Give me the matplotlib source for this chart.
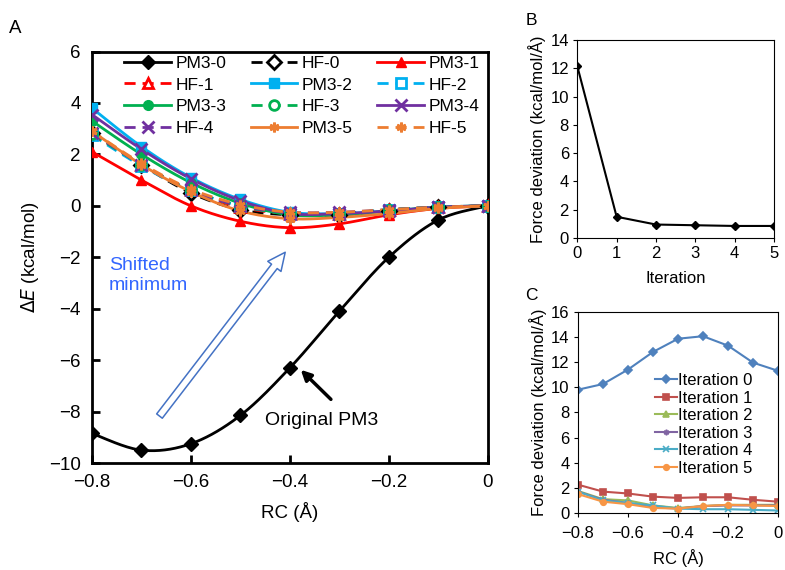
import matplotlib
matplotlib.use("Agg")

import matplotlib.pyplot as plt
import numpy as np
from matplotlib.lines import Line2D
from matplotlib.patches import FancyArrowPatch

plt.rcParams["font.family"] = ["Liberation Sans", "DejaVu Sans"]

# ---- data: panel A (energy profiles) ----
rc = [-0.8, -0.7, -0.6, -0.5, -0.4, -0.3, -0.2, -0.1, 0.0]

pm3_0 = [-8.85, -9.5, -9.25, -8.15, -6.3, -4.1, -2.0, -0.55, 0.0]
hf_0 = [2.85, 1.6, 0.5, -0.15, -0.35, -0.35, -0.2, -0.05, 0.0]
pm3_1 = [2.1, 1.0, 0.0, -0.6, -0.85, -0.7, -0.35, -0.1, 0.0]
hf_1 = [2.8, 1.6, 0.6, -0.05, -0.3, -0.3, -0.15, -0.05, 0.0]
pm3_2 = [3.8, 2.3, 1.1, 0.25, -0.25, -0.3, -0.2, -0.05, 0.0]
hf_2 = [2.75, 1.55, 0.6, 0.0, -0.3, -0.3, -0.15, -0.05, 0.0]
pm3_3 = [3.3, 2.0, 0.9, 0.1, -0.35, -0.35, -0.2, -0.05, 0.0]
hf_3 = [2.8, 1.6, 0.6, 0.0, -0.3, -0.3, -0.15, -0.05, 0.0]
pm3_4 = [3.55, 2.2, 1.05, 0.2, -0.3, -0.3, -0.2, -0.05, 0.0]
hf_4 = [2.85, 1.6, 0.6, 0.0, -0.25, -0.25, -0.15, -0.05, 0.0]
pm3_5 = [2.9, 1.6, 0.55, -0.2, -0.5, -0.45, -0.3, -0.1, 0.0]
hf_5 = [2.9, 1.65, 0.65, 0.05, -0.25, -0.25, -0.15, -0.05, 0.0]

series_a = [
    ("PM3-0", pm3_0), ("HF-0", hf_0), ("PM3-1", pm3_1),
    ("HF-1", hf_1), ("PM3-2", pm3_2), ("HF-2", hf_2),
    ("PM3-3", pm3_3), ("HF-3", hf_3), ("PM3-4", pm3_4),
    ("HF-4", hf_4), ("PM3-5", pm3_5), ("HF-5", hf_5),
]

# ---- data: panel B (force deviation vs iteration) ----
iterations = [0, 1, 2, 3, 4, 5]
force_dev = [12.15, 1.5, 0.95, 0.9, 0.85, 0.85]

# ---- data: panel C (force deviation along RC) ----
iter_0 = [9.8, 10.25, 11.4, 12.8, 13.85, 14.05, 13.3, 11.95, 11.3]
iter_1 = [2.25, 1.7, 1.55, 1.3, 1.2, 1.25, 1.25, 1.05, 0.9]
iter_2 = [1.75, 1.1, 1.0, 0.6, 0.4, 0.55, 0.65, 0.65, 0.65]
iter_3 = [1.7, 1.05, 0.8, 0.45, 0.35, 0.55, 0.6, 0.6, 0.6]
iter_4 = [1.7, 1.0, 0.8, 0.6, 0.35, 0.3, 0.3, 0.25, 0.2]
iter_5 = [1.5, 0.9, 0.7, 0.4, 0.35, 0.55, 0.65, 0.6, 0.55]
series_c = [iter_0, iter_1, iter_2, iter_3, iter_4, iter_5]
labels_c = [f"Iteration {i}" for i in range(6)]

rc_ticks = [-0.8, -0.6, -0.4, -0.2, 0]
rc_ticklabels = ["\u22120.8", "\u22120.6", "\u22120.4", "\u22120.2", "0"]

# ---- styles ----
COLORS_A = ["black", "#FF0000", "#00B0F0", "#00B050", "#7030A0", "#ED7D31"]
MARKERS_A = ["D", "^", "s", "o", "x", (6, 2, 0)]
COLORS_C = ["#4F81BD", "#C0504D", "#9BBB59", "#8064A2", "#4BACC6", "#F79646"]
MARKERS_C = ["D", "s", "^", (6, 2, 0), "x", "o"]


def smooth(x, y, n=20):
    # Bezier-smoothed path through the points (like a spreadsheet "smoothed line")
    x = np.asarray(x, float)
    y = np.asarray(y, float)
    px = np.concatenate([[x[0]], x, [x[-1]]])
    py = np.concatenate([[y[0]], y, [y[-1]]])
    t = np.linspace(0, 1, n)[:, None]
    xs, ys = [], []
    for i in range(1, len(px) - 2):
        p0 = np.array([px[i], py[i]])
        p3 = np.array([px[i + 1], py[i + 1]])
        c1 = p0 + (np.array([px[i + 1], py[i + 1]]) - np.array([px[i - 1], py[i - 1]])) / 6
        c2 = p3 - (np.array([px[i + 2], py[i + 2]]) - np.array([px[i], py[i]])) / 6
        b = ((1 - t) ** 3) * p0 + 3 * ((1 - t) ** 2) * t * c1 + 3 * (1 - t) * t ** 2 * c2 + t ** 3 * p3
        xs.append(b[:, 0])
        ys.append(b[:, 1])
    return np.concatenate(xs), np.concatenate(ys)


fig = plt.figure(figsize=(7.85, 5.7), dpi=100)

# ================= panel A =================
ax = fig.add_axes([0.1172, 0.1877, 0.5041, 0.7219])
handles = []
for k, (name, vals) in enumerate(series_a):
    grp = k // 2
    is_hf = name.startswith("HF")
    color = COLORS_A[grp]
    marker = MARKERS_A[grp]
    ls = (0, (4, 2.5)) if is_hf else "-"
    mfc = "white" if (is_hf and marker in ("D", "^", "s", "o")) else color
    ms = 7 if marker != "x" else 8
    mew = 2 if is_hf or marker in ("x", (6, 2, 0)) else 1
    sx, sy = smooth(rc, vals)
    ax.plot(sx, sy, color=color, lw=2, ls=ls, zorder=3)
    ax.plot(rc, vals, ls="none", marker=marker, ms=ms, color=color,
            mfc=mfc, mec=color, mew=mew, zorder=4)
    handles.append(Line2D([], [], color=color, lw=2, ls=ls, marker=marker, ms=ms,
                          mfc=mfc, mec=color, mew=mew, label=name))

ax.set_xlim(-0.8, 0)
ax.set_ylim(-10, 6)
ax.set_xticks(rc_ticks)
ax.set_xticklabels(rc_ticklabels)
ax.set_yticks(range(-10, 7, 2))
ax.tick_params(direction="in", length=6, width=2, labelsize=13.5, pad=8)
for sp in ax.spines.values():
    sp.set_linewidth(2)
ax.set_xlabel("RC (Å)", fontsize=13.5, labelpad=8)
ax.set_ylabel(r"$\Delta$$\it{E}$ (kcal/mol)", fontsize=13.5, labelpad=6)

# legend laid out row by row in three columns
order = [0, 3, 6, 9, 1, 4, 7, 10, 2, 5, 8, 11]
ax.legend([handles[i] for i in order], [handles[i].get_label() for i in order],
          ncol=3, loc="upper left", bbox_to_anchor=(0.055, 1.015), frameon=False,
          fontsize=12.5, handlelength=2.7, handletextpad=0.25, columnspacing=1.4,
          labelspacing=0.37, borderaxespad=0.2)

# hollow blue arrow and annotation
arr = FancyArrowPatch((-0.667, -8.26), (-0.406, -1.72),
                      arrowstyle="simple,head_length=0.8,head_width=0.75,tail_width=0.32",
                      mutation_scale=16, fc="white", ec="#4472C4", lw=1.1, zorder=5)
ax.add_patch(arr)
ax.text(-0.766, -2.0, "Shifted\nminimum", color="#3366FF", fontsize=14,
        ha="left", va="top", linespacing=1.2)
ax.annotate("", xy=(-0.382, -6.3), xytext=(-0.313, -7.6),
            arrowprops=dict(arrowstyle="-|>,head_length=0.6,head_width=0.3",
                            color="black", lw=2.5))
ax.text(-0.335, -8.33, "Original PM3", fontsize=14, ha="center", va="center")

fig.text(0.012, 0.942, "A", fontsize=13.5)

# ================= panel B =================
bx = fig.add_axes([0.7354, 0.5825, 0.2506, 0.3473])
bx.plot(iterations, force_dev, color="black", lw=1.5, marker="D", ms=4)
bx.set_xlim(0, 5)
bx.set_ylim(0, 14)
bx.set_xticks(iterations)
bx.set_yticks(range(0, 15, 2))
bx.tick_params(direction="out", length=3, labelsize=12, pad=3)
bx.set_xlabel("Iteration", fontsize=12, labelpad=7)
bx.set_ylabel("Force deviation (kcal/mol/Å)", fontsize=12, labelpad=3)
fig.text(0.669, 0.956, "B", fontsize=12.5)

# ================= panel C =================
cx = fig.add_axes([0.7363, 0.1, 0.2548, 0.3532])
for vals, lab, col, mk in zip(series_c, labels_c, COLORS_C, MARKERS_C):
    cx.plot(rc, vals, color=col, lw=1.5, marker=mk, ms=4, mew=1.2, label=lab)
cx.set_xlim(-0.8, 0)
cx.set_ylim(0, 16)
cx.set_xticks(rc_ticks)
cx.set_xticklabels(rc_ticklabels)
cx.set_yticks(range(0, 17, 2))
cx.tick_params(axis="y", direction="out", length=3, labelsize=12, pad=3)
cx.tick_params(axis="x", direction="out", length=3, labelsize=12, pad=6)
cx.set_xlabel("RC (Å)", fontsize=12, labelpad=6)
cx.set_ylabel("Force deviation (kcal/mol/Å)", fontsize=12, labelpad=3)
cx.legend(loc="upper left", bbox_to_anchor=(0.385, 0.695), frameon=False,
          fontsize=12, handlelength=1.3, handletextpad=0.1, labelspacing=0.15,
          borderpad=0.0, borderaxespad=0.0)
fig.text(0.669, 0.474, "C", fontsize=12.5)

fig.savefig("out.png", dpi=100)
